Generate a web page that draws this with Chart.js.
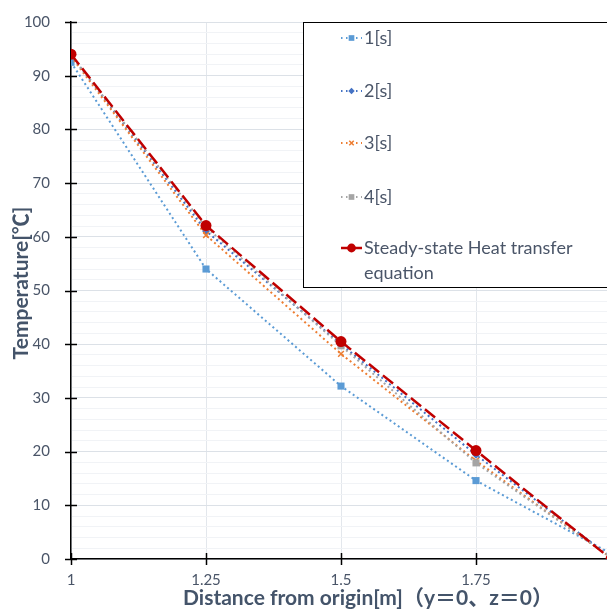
<!DOCTYPE html>
<html>
<head>
<meta charset="utf-8">
<script src="https://cdn.jsdelivr.net/npm/chart.js@4/dist/chart.umd.min.js"></script>
<style>
  html, body { margin: 0; padding: 0; background: #fff; overflow: hidden; }
  #wrap { position: absolute; left: 0; top: 0; }
</style>
</head>
<body>
<div id="wrap"><canvas id="heatChart" width="620" height="610"></canvas></div>
<script>
// positions along x (m)
const distances = [1, 1.25, 1.5, 1.75, 2];

// temperatures
const temp1s = [92.5, 54.0, 32.2, 14.6, 1.0];
const temp2s = [93.8, 61.1, 40.0, 19.4, 0.3];
const temp3s = [93.6, 60.3, 38.2, 18.3, 0.2];
const temp4s = [93.8, 61.8, 39.7, 17.9, 0.3];
const steadyState = [94.0, 62.1, 40.5, 20.2, 0.0];

const seriesLabels = ["1[s]", "2[s]", "3[s]", "4[s]", "Steady-state Heat transfer equation"];
const xTicks = [1, 1.25, 1.5, 1.75, 2];
const yTicks = [0, 10, 20, 30, 40, 50, 60, 70, 80, 90, 100];

const FONT = 'Lato, "Noto Sans CJK SC", sans-serif';
const TEXT = "#4A5568";

function pts(ys) {
  return distances.map((x, i) => ({ x: x, y: ys[i] }));
}

function dotted(label, values, color, style, radius, order) {
  return {
    label: label,
    data: pts(values),
    borderColor: color,
    backgroundColor: color,
    borderWidth: 2,
    borderDash: [2, 3],
    pointStyle: style,
    pointRadius: radius,
    pointBorderWidth: style === "crossRot" ? 1.5 : 0,
    pointBorderColor: color,
    tension: 0,
    order: order
  };
}

const datasets = [
  dotted(seriesLabels[0], temp1s, "#5B9BD5", "rect", 5, 4),
  dotted(seriesLabels[1], temp2s, "#4472C4", "rectRot", 4, 3),
  dotted(seriesLabels[2], temp3s, "#ED7D31", "crossRot", 4, 2),
  dotted(seriesLabels[3], temp4s, "#A5A5A5", "rect", 5, 1),
  {
    label: seriesLabels[4],
    data: pts(steadyState),
    borderColor: "#C00000",
    backgroundColor: "#C00000",
    borderWidth: 2.5,
    borderDash: [13, 5],
    pointStyle: "circle",
    pointRadius: 5.5,
    pointBorderWidth: 0,
    tension: 0,
    order: 0
  }
];

function drawMarker(c, style, r, x, y) {
  if (style === "rect") {
    const s = r / Math.SQRT2;
    c.fillRect(x - s, y - s, 2 * s, 2 * s);
  } else if (style === "rectRot") {
    c.beginPath();
    c.moveTo(x, y - r); c.lineTo(x + r, y); c.lineTo(x, y + r); c.lineTo(x - r, y);
    c.closePath(); c.fill();
  } else if (style === "crossRot") {
    const s = r * 0.7;
    c.lineWidth = 1.5;
    c.beginPath();
    c.moveTo(x - s, y - s); c.lineTo(x + s, y + s);
    c.moveTo(x + s, y - s); c.lineTo(x - s, y + s);
    c.stroke();
  } else {
    c.beginPath(); c.arc(x, y, r, 0, Math.PI * 2); c.fill();
  }
}

// cross tick marks, axis titles and the boxed legend
const decor = {
  id: "decor",
  afterDraw(chart) {
    const c = chart.ctx;
    const xs = chart.scales.x, ys = chart.scales.y;
    const area = chart.chartArea;
    c.save();
    c.strokeStyle = "#000";
    c.lineWidth = 1.5;
    yTicks.forEach(v => {
      const py = Math.round(ys.getPixelForValue(v)) + 0.5;
      c.beginPath(); c.moveTo(area.left - 6, py); c.lineTo(area.left + 6, py); c.stroke();
    });
    xTicks.forEach(v => {
      const px = Math.round(xs.getPixelForValue(v)) + 0.5;
      c.beginPath(); c.moveTo(px, area.bottom - 6); c.lineTo(px, area.bottom + 6); c.stroke();
    });

    // axis titles
    c.fillStyle = "#44546A";
    c.font = "bold 21px " + FONT;
    c.textAlign = "center";
    c.textBaseline = "alphabetic";
    c.fillText("Distance from origin[m]（y＝0、z＝0）", 368, 605);
    c.translate(28, 283);
    c.rotate(-Math.PI / 2);
    c.fillText("Temperature[℃]", 0, 0);
    c.restore();

    // legend box
    c.save();
    c.fillStyle = "#fff";
    c.fillRect(303, 22, 330, 265);
    c.strokeStyle = "#000";
    c.lineWidth = 1;
    c.strokeRect(303.5, 22.5, 330, 265);
    const rowsY = [38, 91, 143, 197, 248];
    chart.data.datasets.forEach((ds, i) => {
      const y = rowsY[i];
      c.strokeStyle = ds.borderColor;
      c.lineWidth = ds.borderWidth;
      c.setLineDash(i === 4 ? [] : [1.5, 3.5]);
      c.beginPath(); c.moveTo(341, y); c.lineTo(362, y); c.stroke();
      c.setLineDash([]);
      c.fillStyle = ds.backgroundColor;
      c.strokeStyle = ds.borderColor;
      drawMarker(c, ds.pointStyle, ds.pointRadius * 0.8, 351.5, y);
      c.fillStyle = TEXT;
      c.font = "18px " + FONT;
      c.textAlign = "left";
      c.textBaseline = "middle";
      if (i === 4) {
        c.fillText("Steady-state Heat transfer", 364, y);
        c.fillText("equation", 364, y + 25);
      } else {
        c.fillText(ds.label, 364, y);
      }
    });
    c.restore();
  }
};

new Chart(document.getElementById("heatChart"), {
  type: "line",
  data: { datasets: datasets },
  options: {
    responsive: false,
    animation: false,
    layout: { padding: { top: 22, right: 9, left: 0, bottom: 0 } },
    plugins: { legend: { display: false }, tooltip: { enabled: false } },
    scales: {
      x: {
        type: "linear",
        min: 1,
        max: 2,
        afterBuildTicks: s => { s.ticks = xTicks.map(v => ({ value: v })); },
        afterFit: s => { s.height = 51; },
        ticks: {
          color: TEXT,
          font: { family: FONT, size: 15 },
          padding: 0,
          maxRotation: 0,
          autoSkip: false,
          callback: v => String(v)
        },
        grid: { color: "#E3E7EC", tickColor: "rgba(0,0,0,0)", tickLength: 12 },
        border: { color: "#000", width: 1.5 }
      },
      y: {
        min: 0,
        max: 100,
        ticks: {
          stepSize: 2,
          autoSkip: false,
          color: TEXT,
          font: { family: FONT, size: 15 },
          padding: 1,
          callback: v => (v % 10 === 0 ? String(v) : "")
        },
        afterFit: s => { s.width = 71; },
        grid: {
          tickColor: "rgba(0,0,0,0)",
          tickLength: 20,
          color: ctx => (ctx.tick && ctx.tick.value % 10 === 0 ? "#DCE1E7" : "#F1F3F6")
        },
        border: { color: "#000", width: 1.5 }
      }
    }
  },
  plugins: [decor]
});
</script>
</body>
</html>
